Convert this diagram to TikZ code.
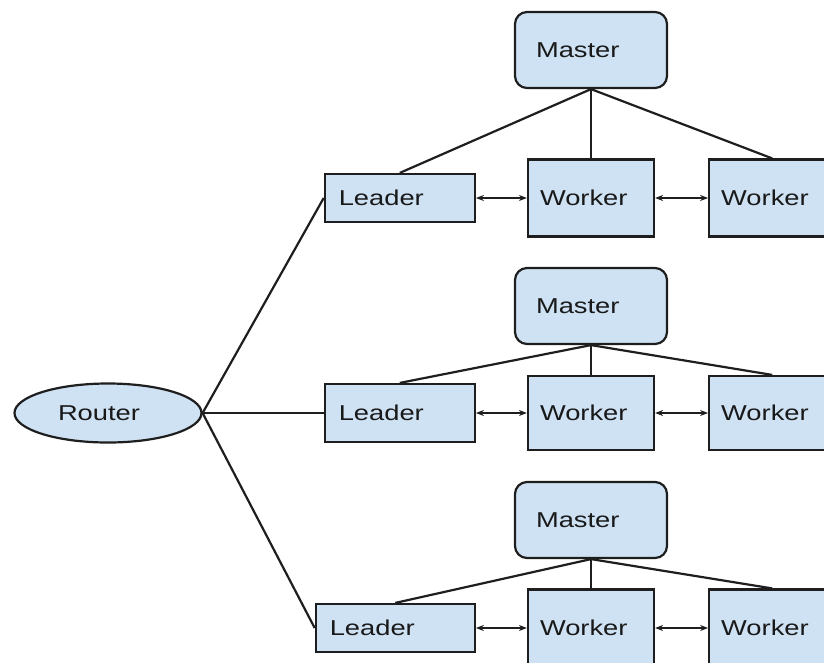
\documentclass[tikz,border=0pt]{standalone}
\usepackage{fontspec}
\setmainfont{Liberation Sans}[FakeStretch=1.27]
\usetikzlibrary{positioning,shapes.geometric,arrows.meta}
\definecolor{boxBlue}{HTML}{CFE2F3}
\definecolor{edgeGray}{HTML}{1E1E1E}

\begin{document}
\begin{tikzpicture}[
    x=1pt, y=-1pt,
    every node/.style={font=\fontsize{21.5}{26}\selectfont, text=black!90},
    unitbox/.style={draw=edgeGray, fill=boxBlue, line width=2.2pt,
                    inner xsep=0pt, align=left},
    masterbox/.style={unitbox, rounded corners=12pt, minimum width=152pt,
                      minimum height=76pt, text width=110pt},
    leaderbox/.style={unitbox, minimum width=150pt, minimum height=48pt,
                      text width=122pt},
    workerbox/.style={unitbox, minimum width=126pt, minimum height=77pt,
                      text width=102pt},
    routerbox/.style={ellipse, draw=edgeGray, fill=boxBlue, line width=2.2pt,
                      minimum width=187pt, minimum height=59pt,
                      text width=100pt, align=left},
    link/.style={draw=edgeGray, line width=2.2pt},
    peer/.style={<->, >={Stealth[length=8pt,width=6pt]}, draw=edgeGray,
                 line width=1.6pt}
]
\clip (0,0) rectangle (824,662);

\node[routerbox] (router) at (108,413) {Router};

% first group
\node[masterbox] (master1) at (591,50) {Master};
\node[workerbox] (worker1a) at (591,198) {Worker};
\node[workerbox, right=53pt of worker1a] (worker1b) {Worker};
\node[leaderbox, left=51pt of worker1a] (leader1) {Leader};

% second group
\node[masterbox] (master2) at (591,306) {Master};
\node[workerbox, minimum height=74pt] (worker2a) at (591,413) {Worker};
\node[workerbox, minimum height=74pt, right=53pt of worker2a] (worker2b) {Worker};
\node[leaderbox, minimum height=58pt, left=51pt of worker2a] (leader2) {Leader};

% third group
\node[masterbox] (master3) at (591,520) {Master};
\node[workerbox] (worker3a) at (591,628) {Worker};
\node[workerbox, right=53pt of worker3a] (worker3b) {Worker};
\node[leaderbox, minimum width=159pt, text width=131pt,
      left=51pt of worker3a] (leader3) {Leader};

% router to leaders
\draw[link] (router.east) -- (leader1.west);
\draw[link] (router.east) -- (leader2.west);
\draw[link] (router.east) -- (leader3.west);

% masters to their units
\draw[link] (master1.south) -- (leader1.north);
\draw[link] (master1.south) -- (worker1a.north);
\draw[link] (master1.south) -- (worker1b.north);
\draw[link] (master2.south) -- (leader2.north);
\draw[link] (master2.south) -- (worker2a.north);
\draw[link] (master2.south) -- (worker2b.north);
\draw[link] (master3.south) -- (leader3.north);
\draw[link] (master3.south) -- (worker3a.north);
\draw[link] (master3.south) -- (worker3b.north);

% peer links
\draw[peer] (leader1) -- (worker1a);
\draw[peer] (worker1a) -- (worker1b);
\draw[peer] (leader2) -- (worker2a);
\draw[peer] (worker2a) -- (worker2b);
\draw[peer] (leader3) -- (worker3a);
\draw[peer] (worker3a) -- (worker3b);
\end{tikzpicture}
\end{document}
